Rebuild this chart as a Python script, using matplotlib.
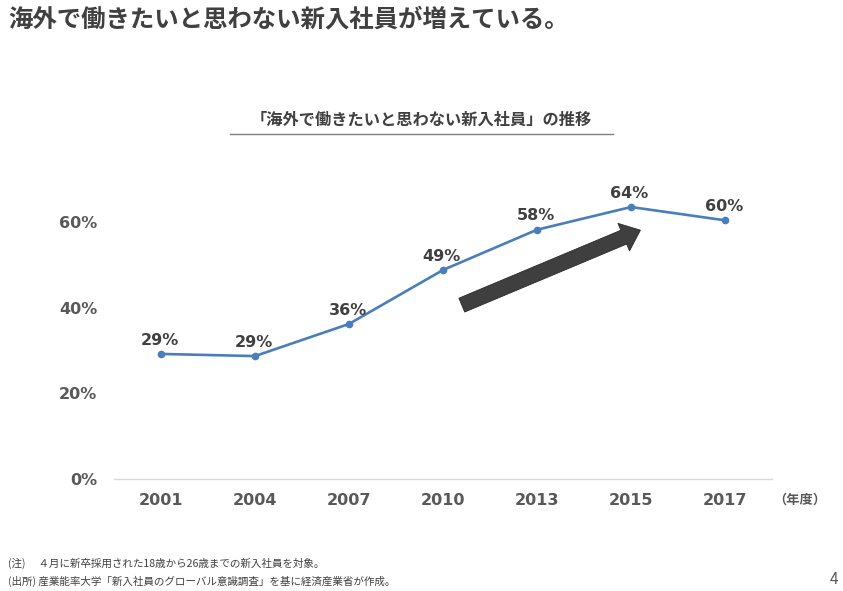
import matplotlib
matplotlib.use("Agg")
import matplotlib.pyplot as plt

plt.rcParams["font.family"] = ["Noto Sans CJK JP", "DejaVu Sans"]
NUM_FONT = ["DejaVu Sans", "Noto Sans CJK JP"]

years = ["2001", "2004", "2007", "2010", "2013", "2015", "2017"]
share = [0.292, 0.287, 0.362, 0.488, 0.582, 0.635, 0.604]
value_labels = ["29%", "29%", "36%", "49%", "58%", "64%", "60%"]
y_ticks = [0.0, 0.2, 0.4, 0.6]
y_tick_labels = ["0%", "20%", "40%", "60%"]

DARK = "#404040"
GREY = "#595959"
BLUE = "#4a7ebb"

fig = plt.figure(figsize=(8.43, 5.91), dpi=100)
ax = fig.add_axes([0.1352, 0.1895, 0.7806, 0.5073])

x = list(range(len(years)))
ax.plot(x, share, color=BLUE, lw=1.9, marker="o", ms=4.5, zorder=3)
for xi, yi, lab in zip(x, share, value_labels):
    ax.annotate(lab, (xi, yi), xytext=(-1, 10), textcoords="offset points",
                ha="center", va="center", fontsize=11.5, fontweight="bold",
                color=DARK, family=NUM_FONT)

# trend arrow
ax.annotate("", xy=(5.10, 0.581), xytext=(3.20, 0.406),
            arrowprops=dict(arrowstyle="simple,head_length=13,head_width=21.5,tail_width=10.8",
                            mutation_scale=1, shrinkA=0, shrinkB=0,
                            fc="#3f3f3f", ec="#2a2a2a", lw=0.6), zorder=4)

ax.set_xlim(-0.5, len(years) - 0.5)
ax.set_ylim(0, 0.7)
ax.set_xticks(x)
ax.set_xticklabels(years)
ax.set_yticks(y_ticks)
ax.set_yticklabels(y_tick_labels)
ax.tick_params(axis="both", length=0, labelsize=11.5, labelcolor=GREY)
ax.tick_params(axis="y", pad=12)
ax.tick_params(axis="x", pad=10)
for t in ax.get_xticklabels() + ax.get_yticklabels():
    t.set_fontweight("bold")
    t.set_family(NUM_FONT)
for side in ("top", "right", "left"):
    ax.spines[side].set_visible(False)
ax.spines["bottom"].set_color("#d9d9d9")
ax.spines["bottom"].set_linewidth(1.0)

fig.text(800 / 843, 1 - 500 / 591, "（年度）", ha="center", va="center",
         fontsize=9.5, fontweight="bold", color=GREY)

# headings
fig.text(8 / 843, 1 - 19 / 591, "海外で働きたいと思わない新入社員が増えている。",
         ha="left", va="center", fontsize=17.6, fontweight="bold", color=DARK)
fig.text(421 / 843, 1 - 120 / 591, "「海外で働きたいと思わない新入社員」の推移",
         ha="center", va="center", fontsize=11.7, fontweight="bold", color=DARK)
fig.add_artist(plt.Line2D([230 / 843, 613 / 843], [1 - 134 / 591, 1 - 134 / 591],
                          color="#7f7f7f", lw=1.0))

# footnotes
fig.text(8 / 843, 1 - 563 / 591, "(注)　 ４月に新卒採用された18歳から26歳までの新入社員を対象。",
         ha="left", va="center", fontsize=7.6, color=DARK)
fig.text(8 / 843, 1 - 581 / 591, "(出所) 産業能率大学「新入社員のグローバル意識調査」を基に経済産業省が作成。",
         ha="left", va="center", fontsize=7.6, color=DARK)
fig.text(838 / 843, 1 - 579 / 591, "4", ha="right", va="center", fontsize=11, color=GREY)

fig.savefig("out.png", dpi=100)
